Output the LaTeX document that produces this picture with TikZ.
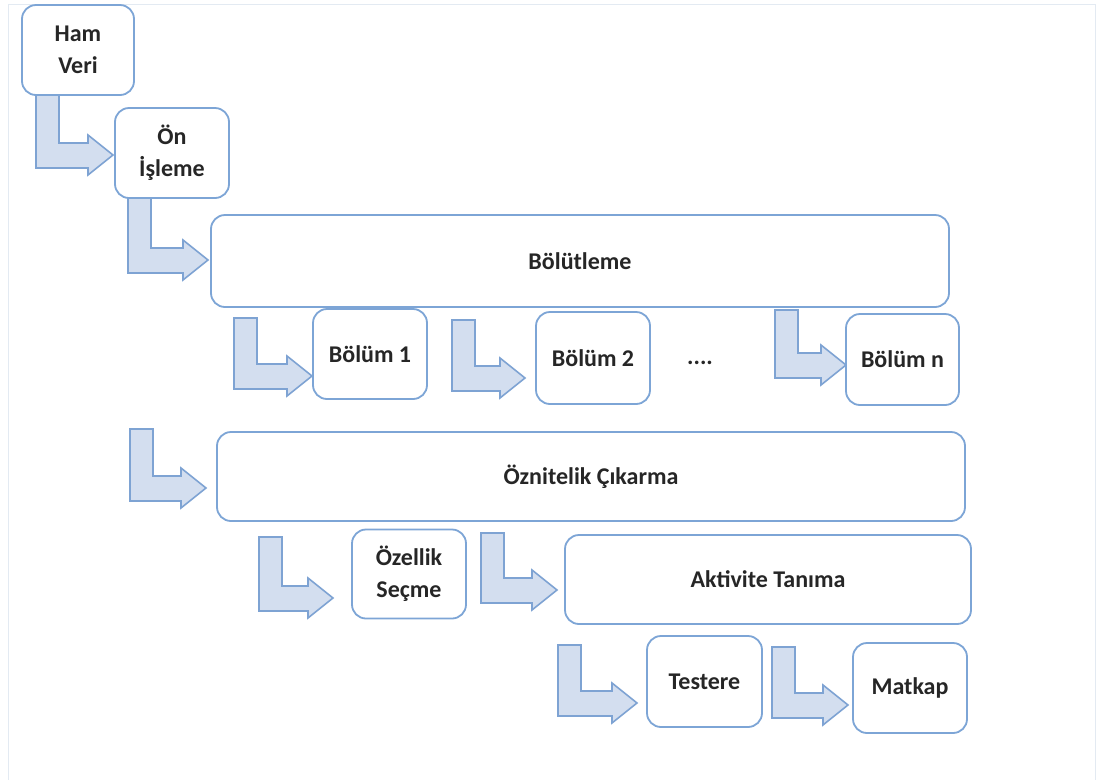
\documentclass[tikz,border=0pt]{standalone}
\usepackage{fontspec}
\setmainfont{Carlito}
\definecolor{boxc}{HTML}{7DA5D6}
\definecolor{arrf}{HTML}{D3DEEF}
\definecolor{arrd}{HTML}{7EA3D3}
\definecolor{framec}{HTML}{E3EAF2}
\definecolor{txtc}{HTML}{262626}
\tikzset{
  lbl/.style={font=\fontsize{24}{32}\selectfont\bfseries, text=txtc, align=center},
  box/.style={lbl, draw=boxc, line width=1.8pt, rounded corners=14pt, fill=white, inner sep=0pt},
  arrowshape/.style={draw=arrd, fill=arrf, line width=1.6pt, line join=miter},
}
\newcommand\bentarr[4]{%
  \draw[arrowshape] (#1,#2) -- (#1+23,#2) -- (#1+23,#4-12) -- (#3-25,#4-12)
    -- (#3-25,#4-20) -- (#3,#4) -- (#3-25,#4+20) -- (#3-25,#4+13) -- (#1,#4+13) -- cycle;}
\begin{document}
\begin{tikzpicture}[x=1pt,y=-1pt]
\useasboundingbox (0,0) rectangle (1098,780);
\fill[white] (0,0) rectangle (1098,780);
\draw[framec, line width=1pt] (8,780) -- (8,4) -- (1095,4) -- (1095,780);
% bent arrows
\bentarr{36}{95}{113}{155}
\bentarr{128}{198}{208}{260}
\bentarr{234}{318}{312}{376}
\bentarr{452}{320}{525}{378}
\bentarr{775}{310}{846}{365}
\bentarr{130}{429}{206}{488}
\bentarr{259}{537}{333}{598}
\bentarr{481}{533}{557}{590}
\bentarr{558}{645}{637}{703}
\bentarr{772}{647}{848}{705}
% boxes
\node[box, minimum width=112pt, minimum height=90pt] (ham) at (78,50) {Ham\\Veri};
\node[box, minimum width=114pt, minimum height=90pt] (on) at (172,153) {Ön\\İşleme};
\node[box, minimum width=738pt, minimum height=92pt] (bolut) at (580,261) {Bölütleme};
\node[box, minimum width=114pt, minimum height=90pt] (b1) at (370,354) {Bölüm 1};
\node[box, minimum width=114pt, minimum height=92pt] (b2) at (593,358) {Bölüm 2};
\node[lbl] (dots) at (700,363) {....};
\node[box, minimum width=113pt, minimum height=91pt] (bn) at (902.5,359.5) {Bölüm n};
\node[box, minimum width=748pt, minimum height=89pt] (ozn) at (591,476.5) {Öznitelik Çıkarma};
\node[box, minimum width=114pt, minimum height=89pt] (ozs) at (409,574) {Özellik\\Seçme};
\node[box, minimum width=406pt, minimum height=89pt] (akt) at (768,579.5) {Aktivite Tanıma};
\node[box, minimum width=115pt, minimum height=91pt] (tes) at (704.5,681.5) {Testere};
\node[box, minimum width=114pt, minimum height=90pt] (mat) at (910,688) {Matkap};
\end{tikzpicture}
\end{document}
